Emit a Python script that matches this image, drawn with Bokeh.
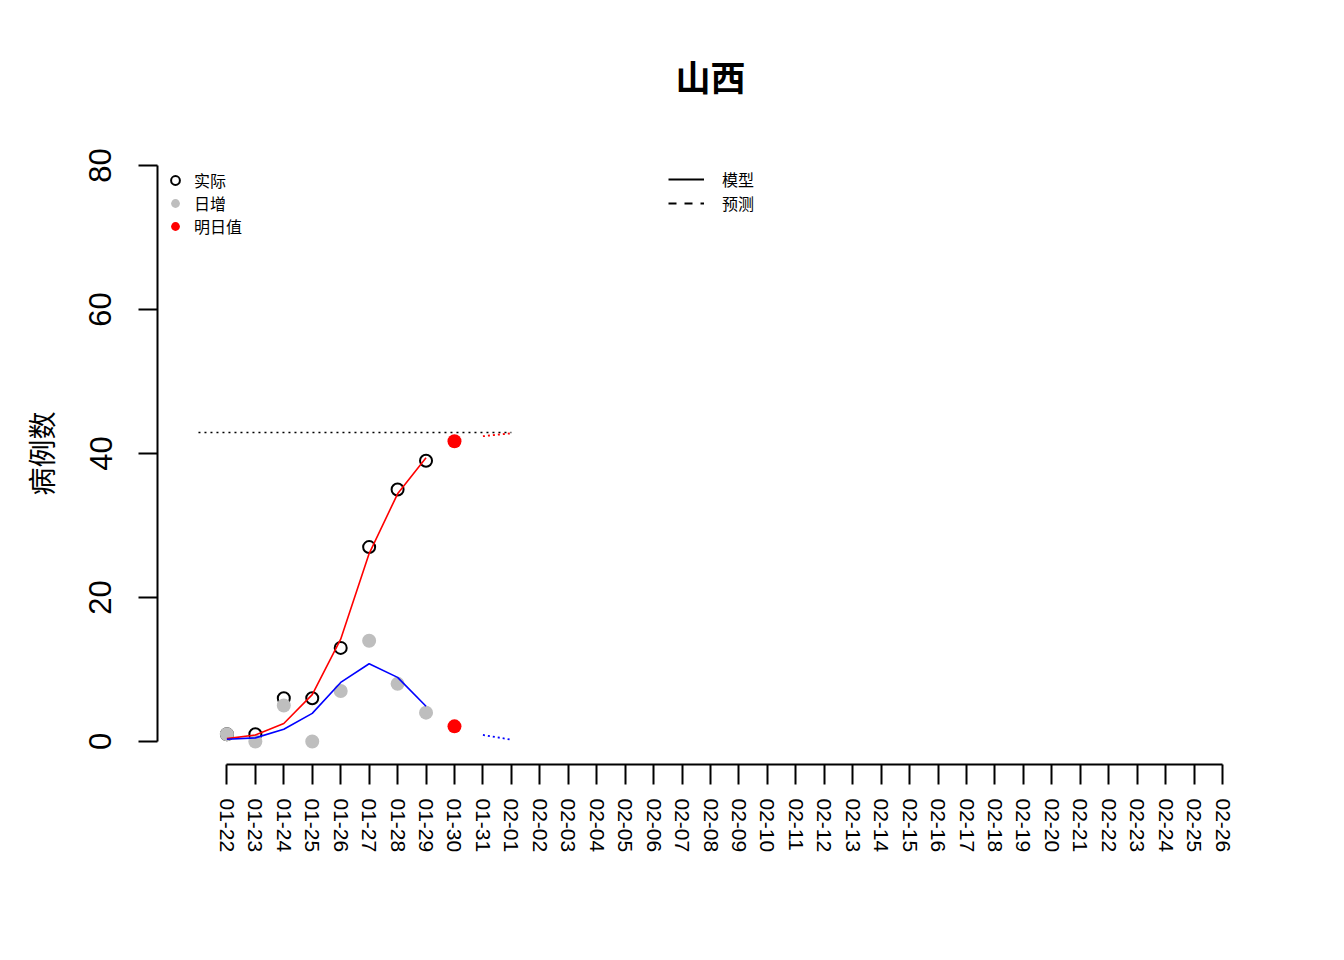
from datetime import date
from bokeh.plotting import figure
from bokeh.models import Range1d, FixedTicker, Legend, LegendItem, ColumnDataSource
from bokeh.embed import file_html
from bokeh.resources import INLINE

# ---- data ----
tick_labels = ["01-22", "01-23", "01-24", "01-25", "01-26", "01-27", "01-28", "01-29",
               "01-30", "01-31", "02-01", "02-02", "02-03", "02-04", "02-05", "02-06",
               "02-07", "02-08", "02-09", "02-10", "02-11", "02-12", "02-13", "02-14",
               "02-15", "02-16", "02-17", "02-18", "02-19", "02-20", "02-21", "02-22",
               "02-23", "02-24", "02-25", "02-26"]
obs_dates = ["01-22", "01-23", "01-24", "01-25", "01-26", "01-27", "01-28", "01-29"]
actual = [1, 1, 6, 6, 13, 27, 35, 39]
daily = [1, 0, 5, 0, 7, 14, 8, 4]
model_cum = [0.4, 0.9, 2.5, 6.5, 14.2, 26.1, 34.4, 39.4]
model_daily = [0.3, 0.5, 1.7, 3.9, 8.2, 10.8, 8.9, 4.9]
next_dates = ["01-30"]
next_cum = [41.7]
next_daily = [2.1]
pred_dates = ["01-31", "02-01"]
pred_cum = [42.4, 42.8]
pred_daily = [0.9, 0.25]
cap_dates = ["01-21", "02-01"]
capacity = [42.9, 42.9]
y_ticks = [0, 20, 40, 60, 80]


def day(s):
    m, d = map(int, s.split("-"))
    return (date(2020, m, d) - date(2020, 1, 22)).days


def days(lst):
    return [day(s) for s in lst]


CJK = "Noto Sans CJK SC"
LAT = "Liberation Sans"

p = figure(width=1344, height=960,
           x_range=Range1d(-2.44, 36.44), y_range=Range1d(-3.2, 83.2),
           output_backend="svg", toolbar_location=None,
           min_border_left=157, min_border_right=81,
           min_border_top=142, min_border_bottom=196,
           title="山西")
p.outline_line_color = None
p.grid.visible = False
p.background_fill_color = "white"

p.title.align = "center"
p.title.text_font = CJK
p.title.text_font_size = "35px"
p.title.text_font_style = "bold"
p.title.text_color = "black"
p.title.standoff = 84

xa = p.xaxis[0]
xa.ticker = FixedTicker(ticks=list(range(len(tick_labels))))
xa.major_label_overrides = {i: lab for i, lab in enumerate(tick_labels)}
xa.bounds = (0, len(tick_labels) - 1)
xa.major_tick_out = 20
xa.major_tick_in = 0
xa.minor_tick_out = 0
xa.minor_tick_in = 0
xa.major_label_orientation = "vertical"
xa.major_label_text_font = LAT
xa.major_label_text_font_size = "21px"
xa.major_label_text_color = "black"
xa.major_label_standoff = 14
xa.axis_line_width = 2
xa.major_tick_line_width = 2

ya = p.yaxis[0]
ya.ticker = FixedTicker(ticks=y_ticks)
ya.bounds = (y_ticks[0], y_ticks[-1])
ya.major_tick_out = 19
ya.major_tick_in = 0
ya.minor_tick_out = 0
ya.minor_tick_in = 0
ya.major_label_orientation = "vertical"
ya.major_label_text_font = LAT
ya.major_label_text_font_size = "31px"
ya.major_label_text_color = "black"
ya.major_label_standoff = 27
ya.axis_line_width = 2
ya.major_tick_line_width = 2
ya.axis_label = "病例数"
ya.axis_label_text_font = CJK
ya.axis_label_text_font_size = "28px"
ya.axis_label_text_font_style = "normal"
ya.axis_label_text_color = "black"
ya.axis_label_standoff = 26

# ---- glyphs ----
p.line(days(cap_dates), capacity, line_color="black", line_width=1.5, line_dash="2 4")
p.scatter(days(obs_dates), actual, marker="circle", size=12, fill_color=None,
          line_color="black", line_width=2)
p.scatter(days(obs_dates), daily, marker="circle", size=14, fill_color="#BEBEBE",
          line_color=None)
p.line(days(obs_dates), model_cum, line_color="red", line_width=1.6)
p.line(days(obs_dates), model_daily, line_color="blue", line_width=1.6)
p.scatter(days(next_dates), next_cum, marker="circle", size=14, fill_color="red",
          line_color=None)
p.scatter(days(next_dates), next_daily, marker="circle", size=14, fill_color="red",
          line_color=None)
p.line(days(pred_dates), pred_cum, line_color="red", line_width=1.8, line_dash="2 3")
p.line(days(pred_dates), pred_daily, line_color="blue", line_width=1.8, line_dash="2 3")

# ---- legends (proxy renderers with no visible data) ----
nan = float("nan")
proxy = ColumnDataSource(data=dict(x=[nan], y=[nan]))
r_a = p.scatter("x", "y", source=proxy, marker="circle", fill_color=None,
                line_color="black", line_width=2)
r_d = p.scatter("x", "y", source=proxy, marker="circle", fill_color="#BEBEBE",
                line_color=None)
r_n = p.scatter("x", "y", source=proxy, marker="circle", fill_color="red",
                line_color=None)
r_m = p.line("x", "y", source=proxy, line_color="black", line_width=2)
r_p = p.line("x", "y", source=proxy, line_color="black", line_width=2, line_dash="8 8")


def add_item(label, rend, vx, vy, gw, standoff):
    lg = Legend(items=[LegendItem(label=label, renderers=[rend])],
                location=(vx, vy), glyph_width=gw, glyph_height=22,
                label_standoff=standoff)
    lg.border_line_alpha = 0
    lg.background_fill_alpha = 0
    lg.padding = 0
    lg.margin = 0
    lg.spacing = 0
    lg.label_text_font = CJK
    lg.label_text_font_size = "16px"
    lg.label_text_color = "black"
    lg.label_height = 20
    p.add_layout(lg, "center")


add_item("实际", r_a, 7, 572.5, 22, 8)
add_item("日增", r_d, 7, 549.5, 22, 8)
add_item("明日值", r_n, 7, 526.5, 22, 8)
add_item("模型", r_m, 511, 573, 36, 18)
add_item("预测", r_p, 511, 549, 36, 18)

open("out.html", "w").write(file_html(p, INLINE))
